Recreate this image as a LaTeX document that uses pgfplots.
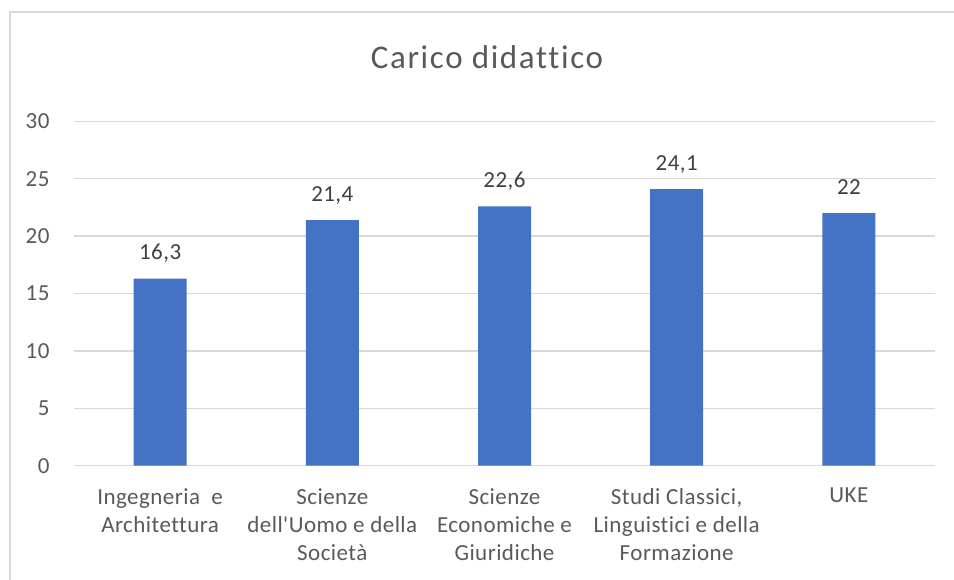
\documentclass[border=0pt]{standalone}
\usepackage{pgfplots}
\pgfplotsset{compat=1.18}
\usepackage{fontspec}
\setmainfont{Carlito}[Ligatures={TeXOff,NoCommon}, LetterSpace=2]
\newfontfamily\titlefont{Carlito}[Ligatures={TeXOff,NoCommon}, LetterSpace=5]
\definecolor{barblue}{HTML}{4472C4}
\definecolor{gridgray}{HTML}{D9D9D9}
\definecolor{ticktext}{HTML}{595959}
\definecolor{labeltext}{HTML}{404040}
\begin{document}
\begin{tikzpicture}[x=1pt,y=1pt]
\useasboundingbox (0,0) rectangle (954,579);
\draw[gridgray, line width=1.3pt] (10,-5) -- (10,567) -- (960,567);
\node[anchor=base, font=\titlefont\fontsize{33}{40}\selectfont, text=ticktext] at (487,510) {Carico didattico};
\begin{axis}[
  at={(74pt,113.3pt)}, anchor=south west,
  scale only axis, width=861pt, height=344.4pt,
  xmin=-0.5, xmax=4.5, ymin=0, ymax=30,
  ytick={0,5,10,15,20,25,30},
  xtick={0,1,2,3,4},
  xticklabels={{Ingegneria\ \ e\\Architettura},{Scienze\\dell'Uomo e della\\Società},{Scienze\\Economiche e\\Giuridiche},{Studi Classici,\\Linguistici e della\\Formazione},{UKE}},
  axis line style={draw=none},
  major tick length=0pt,
  ymajorgrids, grid style={gridgray, line width=1.3pt},
  /pgf/number format/assume math mode=true,
  /pgf/number format/use comma,
  yticklabel style={font=\fontsize{23}{28}\selectfont, text=ticktext, xshift=-21pt},
  xticklabel style={font=\fontsize{23}{28}\selectfont, text=ticktext, align=center, anchor=north, yshift=-19pt},
  ybar, bar width=53pt,
  nodes near coords,
  every node near coord/.append style={font=\fontsize{23}{28}\selectfont, text=labeltext, anchor=base, yshift=19pt},
]
\addplot[fill=barblue, draw=none] coordinates {(0,16.3) (1,21.4) (2,22.6) (3,24.1) (4,22)};
\end{axis}
\end{tikzpicture}
\end{document}
